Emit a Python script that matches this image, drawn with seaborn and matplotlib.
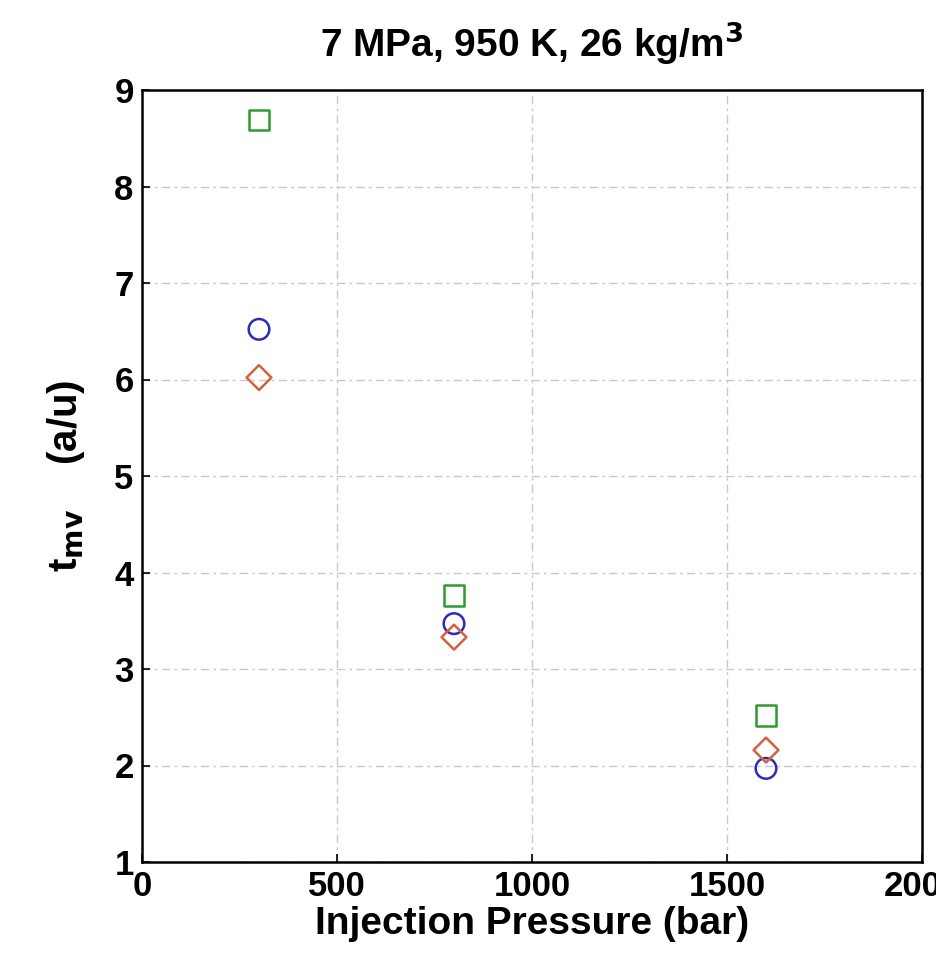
import matplotlib
matplotlib.use("Agg")
import matplotlib.pyplot as plt
import seaborn as sns
import pandas as pd

# Injection pressures (bar) and measured t_mv values for the three estimates
pressure = [300, 800, 1600]
t_square = [8.69, 3.76, 2.52]
t_circle = [6.52, 3.47, 1.97]
t_diamond = [6.02, 3.33, 2.16]

x_ticks = [0, 500, 1000, 1500, 2000]
y_ticks = [1, 2, 3, 4, 5, 6, 7, 8, 9]

series = [
    ("square", t_square, "s", "#2e9a2e"),
    ("circle", t_circle, "o", "#2c2cb8"),
    ("diamond", t_diamond, "D", "#d2613c"),
]

sns.set_theme(style="white")
plt.rcParams["font.family"] = ["Liberation Sans", "DejaVu Sans"]
plt.rcParams["text.color"] = "black"
plt.rcParams["axes.labelcolor"] = "black"
plt.rcParams["xtick.color"] = "black"
plt.rcParams["ytick.color"] = "black"

fig = plt.figure(figsize=(9.36, 9.56), dpi=100)
ax = fig.add_axes([142 / 936, 1 - 862 / 956, 780 / 936, 772 / 956])

for name, vals, mk, col in series:
    df = pd.DataFrame({"pressure": pressure, "t_mv": vals})
    sns.scatterplot(data=df, x="pressure", y="t_mv", marker=mk, s=220 if mk != "D" else 160,
                    facecolor="none", edgecolor=col, linewidth=1.8, ax=ax, zorder=3)

ax.set_xlim(0, 2000)
ax.set_ylim(1, 9)
ax.set_xticks(x_ticks)
ax.set_yticks(y_ticks)
ax.set_xticklabels([str(v) for v in x_ticks], fontsize=25, fontweight="bold")
ax.set_yticklabels([str(v) for v in y_ticks], fontsize=25, fontweight="bold")
ax.tick_params(direction="in", length=6, width=1.2, color="black", pad=6,
               bottom=True, left=True, top=False, right=False)

ax.grid(True, color="#c8c8c8", linestyle=(0, (6, 3, 2, 3)), linewidth=1.0)
for sp in ax.spines.values():
    sp.set_color("black")
    sp.set_linewidth(1.8)

ax.set_xlabel("Injection Pressure (bar)", fontsize=28, fontweight="bold", labelpad=2)
ax.set_ylabel(r"t$_{\mathbf{mv}}$    (a/u)", fontsize=29, fontweight="bold", labelpad=20)
ax.set_title(r"7 MPa, 950 K, 26 kg/m$^{\mathbf{3}}$", fontsize=28, fontweight="bold", pad=24)

fig.savefig("out.png", dpi=100)
